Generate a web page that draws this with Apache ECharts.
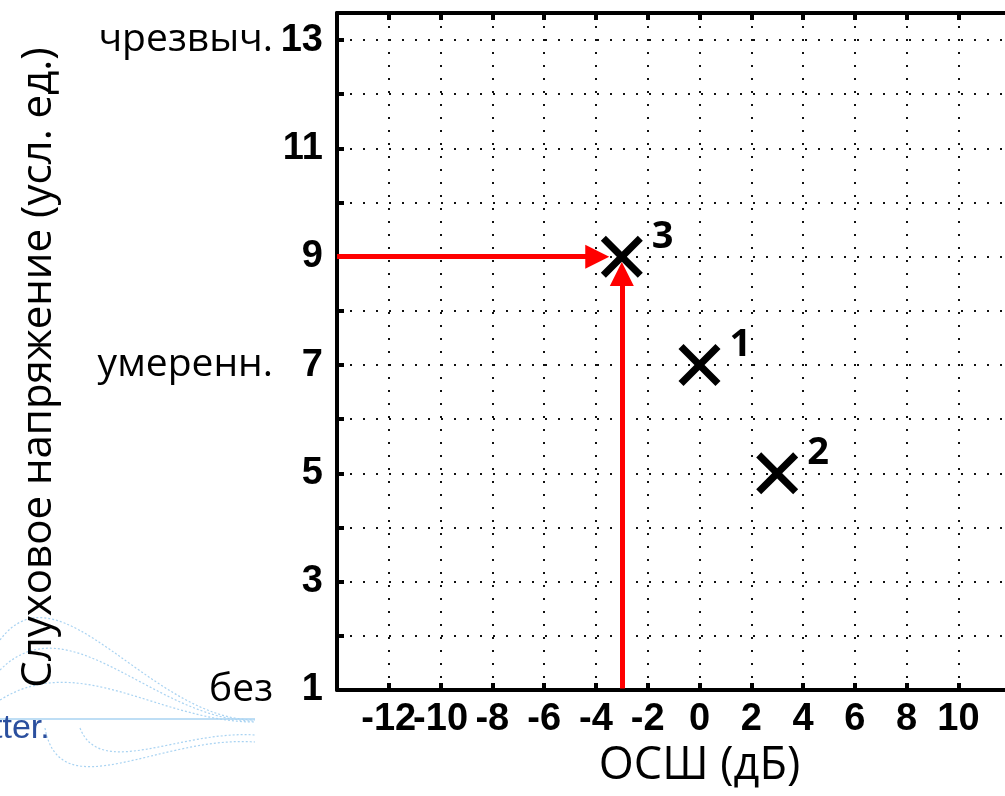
<!DOCTYPE html>
<html>
<head>
<meta charset="utf-8">
<script src="https://cdn.jsdelivr.net/npm/echarts@6/dist/echarts.min.js"></script>
<style>
html,body{margin:0;padding:0;background:#fff;}
#chart{width:1005px;height:796px;}
</style>
</head>
<body>
<div id="chart"></div>
<script>
// ---- data ----
const xTickValues = [-12, -10, -8, -6, -4, -2, 0, 2, 4, 6, 8, 10];
const yTickLabels = [1, 3, 5, 7, 9, 11, 13];
const yWordValues = [13, 7, 1];
const yWords = ['чрезвыч.', 'умеренн.', 'без'];
const pointX = [0, 3, -3];
const pointY = [7, 5, 9];
const pointNames = ['1', '2', '3'];
const arrowStart = [[-14, 9], [-3, 1.03]];
const arrowEnd = [[-3.95, 9], [-3, 8.68]];

const xMin = -14, xMax = 14, yMin = 1, yMax = 13.5;

const chart = echarts.init(document.getElementById('chart'));
const crossPath = 'path://M12,0 L50,38 L88,0 L100,12 L62,50 L100,88 L88,100 L50,62 L12,100 L0,88 L38,50 L0,12 Z';
const numFont = 'Liberation Sans';
const wordFont = 'Open Sans';

const gridDots = { color: '#111', width: 2, type: [2, 11] };

chart.setOption({
  animation: false,
  backgroundColor: '#fff',
  grid: { left: 337, top: 13, bottom: 106, right: -57, outerBoundsMode: 'none', containLabel: false },
  xAxis: [{
    type: 'value', min: xMin, max: xMax, interval: 2,
    position: 'bottom',
    name: 'ОСШ (дБ)', nameLocation: 'middle', nameGap: 50,
    nameTextStyle: { fontFamily: wordFont, fontSize: 45, color: '#000' },
    axisLine: { show: true, onZero: false, lineStyle: { color: '#000', width: 4 } },
    axisTick: { show: true, inside: true, length: 7, lineStyle: { color: '#000', width: 4 } },
    axisLabel: {
      margin: 11, color: '#000', fontFamily: numFont, fontWeight: 'bold', fontSize: 38,
      formatter: v => xTickValues.indexOf(v) >= 0 ? String(v) : ''
    },
    splitLine: { show: true, lineStyle: gridDots }
  }, {
    type: 'value', min: xMin, max: xMax, interval: 2, position: 'top',
    axisLine: { show: true, onZero: false, lineStyle: { color: '#000', width: 4 } },
    axisTick: { show: true, inside: true, length: 7, lineStyle: { color: '#000', width: 4 } },
    axisLabel: { show: false }, splitLine: { show: false }
  }],
  yAxis: [{
    type: 'value', min: yMin, max: yMax, interval: 1,
    name: 'Слуховое напряжение (усл. ед.)', nameLocation: 'middle', nameGap: 277, nameRotate: 90,
    nameTextStyle: { fontFamily: wordFont, fontSize: 42, color: '#000', padding: [0, 32, 0, 0] },
    axisLine: { show: true, onZero: false, lineStyle: { color: '#000', width: 4 } },
    axisTick: { show: true, inside: true, length: 7, lineStyle: { color: '#000', width: 4 } },
    axisLabel: {
      margin: 14,
      formatter: v => {
        if (yTickLabels.indexOf(v) < 0) return '';
        const wi = yWordValues.indexOf(v);
        const w = wi >= 0 ? yWords[wi] : '';
        return '{w|' + w + '}{n|' + v + '}';
      },
      rich: {
        w: { fontFamily: wordFont, fontSize: 39, color: '#000', width: 200, align: 'right' },
        n: { fontFamily: numFont, fontWeight: 'bold', fontSize: 38, color: '#000', width: 50, align: 'right' }
      }
    },
    splitLine: { show: true, lineStyle: gridDots }
  }],
  series: [{
    type: 'lines', coordinateSystem: 'cartesian2d', z: 3,
    symbol: ['none', 'triangle'], symbolSize: 24,
    lineStyle: { color: '#ff0000', width: 5, opacity: 1 },
    data: arrowStart.map((s, i) => ({ coords: [s, arrowEnd[i]] }))
  }, {
    type: 'scatter', z: 4,
    symbol: crossPath, symbolSize: 42,
    itemStyle: { color: '#000', opacity: 1 },
    label: {
      show: true, position: 'right', distance: 9, offset: [0, -20],
      formatter: p => pointNames[p.dataIndex],
      fontFamily: wordFont, fontWeight: 'bold', fontSize: 38, color: '#000'
    },
    data: pointX.map((x, i) => [x, pointY[i]])
  }],
  graphic: [
    { type: 'bezierCurve', z: 0, shape: { x1: 0, y1: 640, x2: 255, y2: 720, cpx1: 60, cpy1: 560, cpx2: 150, cpy2: 720 }, style: { stroke: '#a9d3f2', lineWidth: 1.2, fill: null, lineDash: [2, 2] } },
    { type: 'bezierCurve', z: 0, shape: { x1: 0, y1: 670, x2: 255, y2: 721, cpx1: 70, cpy1: 600, cpx2: 155, cpy2: 721 }, style: { stroke: '#a9d3f2', lineWidth: 1.2, fill: null, lineDash: [2, 2] } },
    { type: 'bezierCurve', z: 0, shape: { x1: 0, y1: 700, x2: 255, y2: 722, cpx1: 80, cpy1: 650, cpx2: 160, cpy2: 722 }, style: { stroke: '#a9d3f2', lineWidth: 1.2, fill: null, lineDash: [2, 2] } },
    { type: 'bezierCurve', z: 0, shape: { x1: 45, y1: 728, x2: 255, y2: 742, cpx1: 60, cpy1: 810, cpx2: 160, cpy2: 735 }, style: { stroke: '#a9d3f2', lineWidth: 1.2, fill: null, lineDash: [2, 2] } },
    { type: 'bezierCurve', z: 0, shape: { x1: 80, y1: 728, x2: 255, y2: 735, cpx1: 100, cpy1: 780, cpx2: 180, cpy2: 730 }, style: { stroke: '#a9d3f2', lineWidth: 1.2, fill: null, lineDash: [2, 2] } },
    { type: 'line', z: 0, shape: { x1: 0, y1: 719, x2: 255, y2: 719 }, style: { stroke: '#a9d3f2', lineWidth: 1.5 } },
    { type: 'text', z: 1, left: -7, top: 712, style: { text: 'tter.', font: '34px "Liberation Sans"', fill: '#2b4f9e' } }
  ]
});
</script>
</body>
</html>
